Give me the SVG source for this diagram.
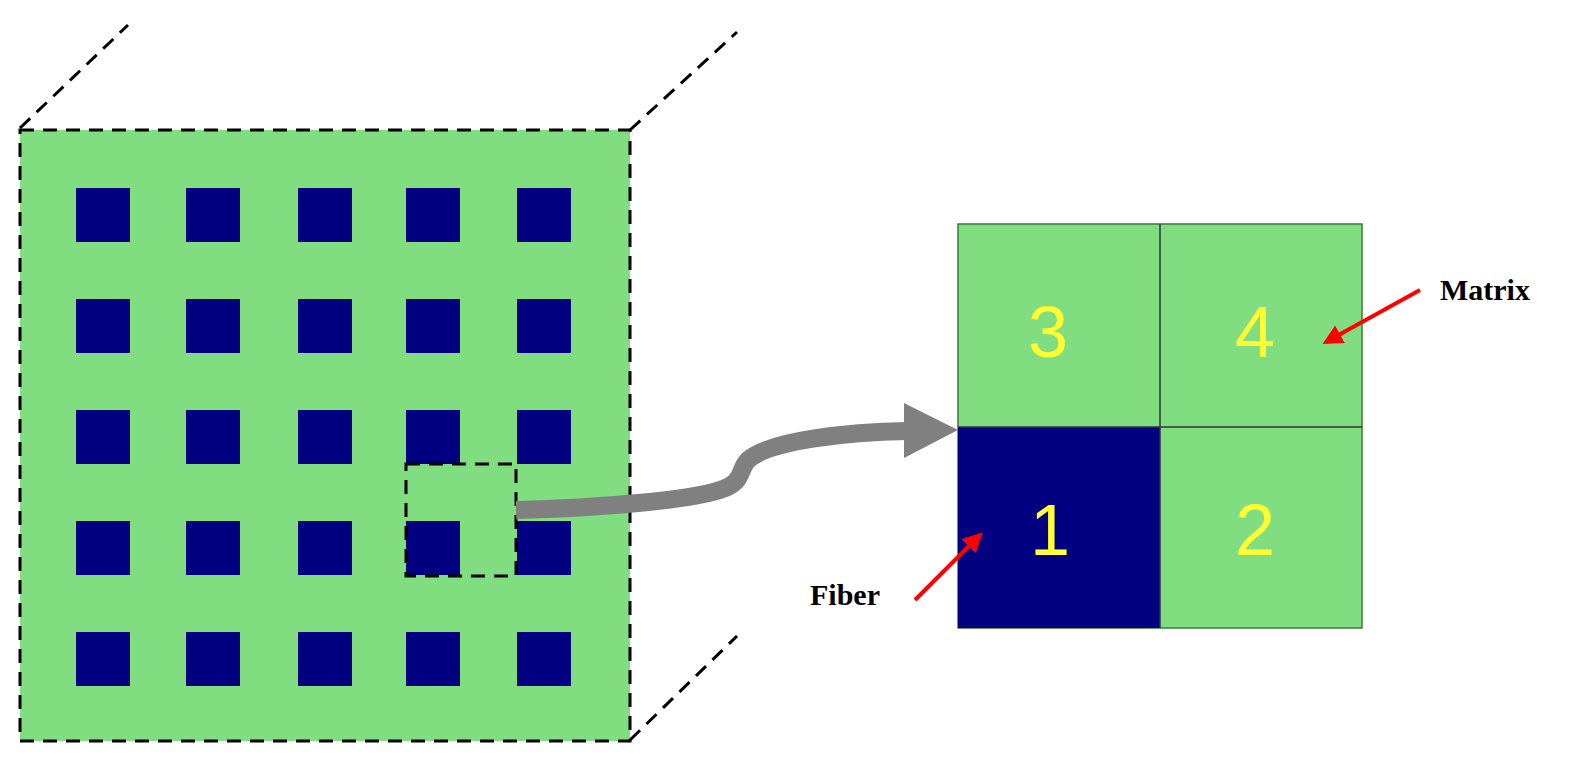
<svg xmlns="http://www.w3.org/2000/svg" width="1596" height="775" viewBox="0 0 1596 775">
<style>
.d{fill:none;stroke:#000;stroke-width:3;stroke-dasharray:14 9}
.f{fill:#000080}
.g{fill:#80DD80}
.n{font-family:"Liberation Sans",sans-serif;font-size:72px;fill:#FFFF33;text-anchor:middle}
.l{font-family:"Liberation Serif",serif;font-weight:bold;font-size:30px;fill:#000}
</style>
<defs>
<marker id="ra" markerWidth="5" markerHeight="5" refX="4" refY="2.5" orient="auto" markerUnits="strokeWidth"><path d="M0,0L5,2.5L0,5z" fill="#FF0000"/></marker>
</defs>
<g id="block">
<rect class="g" x="20" y="130" width="610" height="611"/>
<g class="f">
<rect x="76" y="188" width="54" height="54"/><rect x="186" y="188" width="54" height="54"/><rect x="298" y="188" width="54" height="54"/><rect x="406" y="188" width="54" height="54"/><rect x="517" y="188" width="54" height="54"/>
<rect x="76" y="299" width="54" height="54"/><rect x="186" y="299" width="54" height="54"/><rect x="298" y="299" width="54" height="54"/><rect x="406" y="299" width="54" height="54"/><rect x="517" y="299" width="54" height="54"/>
<rect x="76" y="410" width="54" height="54"/><rect x="186" y="410" width="54" height="54"/><rect x="298" y="410" width="54" height="54"/><rect x="406" y="410" width="54" height="54"/><rect x="517" y="410" width="54" height="54"/>
<rect x="76" y="521" width="54" height="54"/><rect x="186" y="521" width="54" height="54"/><rect x="298" y="521" width="54" height="54"/><rect x="406" y="521" width="54" height="54"/><rect x="517" y="521" width="54" height="54"/>
<rect x="76" y="632" width="54" height="54"/><rect x="186" y="632" width="54" height="54"/><rect x="298" y="632" width="54" height="54"/><rect x="406" y="632" width="54" height="54"/><rect x="517" y="632" width="54" height="54"/>
</g>
<rect class="g" x="406" y="464" width="110" height="57"/>
<rect class="g" x="460" y="464" width="57" height="112"/>
<rect class="d" x="20" y="130" width="610" height="611"/>
<line class="d" x1="20" y1="128" x2="128" y2="25"/>
<line class="d" x1="630" y1="130" x2="737" y2="32"/>
<line class="d" x1="630" y1="740" x2="737" y2="636"/>
<rect class="d" x="406" y="464" width="110" height="112"/>
</g>
<g id="unitcell">
<rect class="g" x="958" y="224" width="404" height="404" stroke="#3a7a3a" stroke-width="1.5"/>
<rect class="f" x="958" y="427" width="202" height="201"/>
<line x1="1160" y1="224" x2="1160" y2="628" stroke="#333" stroke-width="1.5"/>
<line x1="958" y1="427" x2="1362" y2="427" stroke="#333" stroke-width="1.5"/>
<text class="n" x="1048" y="357">3</text>
<text class="n" x="1255" y="357">4</text>
<text class="n" x="1050" y="555">1</text>
<text class="n" x="1255" y="555">2</text>
</g>
<g id="labels">
<text class="l" x="810" y="605">Fiber</text>
<text class="l" x="1440" y="300">Matrix</text>
</g>
<g id="connectors">
<path d="M516,510 C600,508 690,500 720,490 C745,482 738,470 748,460 C770,440 850,432 908,431" fill="none" stroke="#808080" stroke-width="18"/>
<path d="M904,403 L958,430 L904,458z" fill="#808080"/>
<line x1="915" y1="600" x2="980" y2="535" stroke="#FF0000" stroke-width="4" marker-end="url(#ra)"/>
<line x1="1420" y1="290" x2="1326" y2="342" stroke="#FF0000" stroke-width="4" marker-end="url(#ra)"/>
</g>
</svg>
